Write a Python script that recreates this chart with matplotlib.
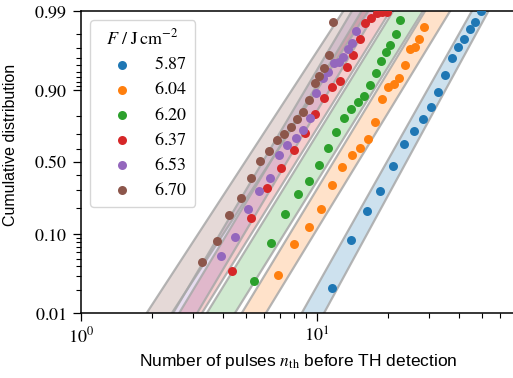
import numpy as np
import matplotlib
matplotlib.use("Agg")
import matplotlib.pyplot as plt
from matplotlib.ticker import FixedLocator, FuncFormatter, NullFormatter, LogLocator

# ---------------- data ----------------
fluences = [5.87, 6.04, 6.20, 6.37, 6.53, 6.70]

n_587 = [11.58, 13.94, 16.30, 18.61, 21.01, 23.47, 25.79, 28.17, 30.55, 32.81,
         35.13, 37.61, 39.89, 42.17, 44.72, 46.95, 49.63]
F_587 = [0.021, 0.085, 0.182, 0.291, 0.472, 0.634, 0.718, 0.786, 0.843, 0.894,
         0.933, 0.959, 0.971, 0.977, 0.983, 0.986, 0.990]

n_604 = [6.82, 8.04, 9.23, 10.43, 11.61, 12.84, 14.05, 15.27, 16.51, 17.71,
         18.87, 20.07, 21.22, 22.24, 23.69, 24.88, 26.05, 27.25, 28.53]
F_604 = [0.031, 0.076, 0.122, 0.195, 0.330, 0.464, 0.551, 0.607, 0.665, 0.770,
         0.873, 0.907, 0.915, 0.928, 0.951, 0.969, 0.971, 0.977, 0.984]

n_620 = [5.44, 6.38, 7.36, 8.31, 9.25, 10.23, 11.17, 12.11, 13.06, 14.02,
         15.02, 15.88, 16.88, 17.85, 18.74, 19.68, 20.53, 21.63, 22.56]
F_620 = [0.026, 0.078, 0.169, 0.272, 0.359, 0.475, 0.605, 0.714, 0.792, 0.835,
         0.860, 0.881, 0.912, 0.938, 0.956, 0.966, 0.972, 0.980, 0.987]

n_637 = [4.36, 5.26, 6.18, 7.06, 7.99, 8.89, 9.81, 10.69, 11.59, 12.50,
         13.41, 14.30, 15.27, 16.08, 16.92, 17.97, 18.87, 19.82]
F_637 = [0.035, 0.154, 0.310, 0.452, 0.588, 0.709, 0.812, 0.876, 0.907, 0.922,
         0.947, 0.963, 0.977, 0.9855, 0.9875, 0.9895, 0.9896, 0.9896]

n_653 = [3.91, 4.51, 5.11, 5.71, 6.31, 6.90, 7.50, 8.15, 8.77, 9.37,
         9.93, 10.60, 11.20, 11.79, 12.38, 12.89, 13.51, 14.12, 14.72]
F_653 = [0.054, 0.093, 0.192, 0.293, 0.383, 0.552, 0.627, 0.675, 0.726, 0.790,
         0.890, 0.927, 0.940, 0.953, 0.955, 0.961, 0.969, 0.974, 0.982]

n_670 = [3.26, 3.77, 4.26, 4.76, 5.26, 5.76, 6.28, 6.77, 7.27, 7.76,
         8.27, 8.77, 9.28, 9.79, 10.26, 10.77, 11.30, 11.76]
F_670 = [0.046, 0.084, 0.166, 0.249, 0.383, 0.511, 0.585, 0.661, 0.701, 0.745,
         0.786, 0.822, 0.870, 0.918, 0.931, 0.946, 0.963, 0.986]

# confidence bands: n of the left/right band edge at F = 0.01 and at F = 0.99
band_left_low   = [8.64, 4.81, 3.42, 2.61, 2.46, 1.90]
band_right_low  = [10.74, 6.09, 4.50, 3.26, 3.11, 2.43]
band_left_high  = [45.5, 28.8, 21.1, 15.5, 14.1, 12.97]
band_right_high = [53.5, 36.8, 28.2, 20.5, 17.9, 16.55]

series_n = [n_587, n_604, n_620, n_637, n_653, n_670]
series_F = [F_587, F_604, F_620, F_637, F_653, F_670]
colors = ["C0", "C1", "C2", "C3", "C4", "C5"]

# ---------------- figure ----------------
plt.rcParams["mathtext.fontset"] = "stix"
plt.rcParams["font.family"] = ["Liberation Sans", "DejaVu Sans"]

fig = plt.figure(figsize=(5.13, 3.78), dpi=100)
W, H = 513, 378
ax = fig.add_axes([81 / W, 65 / H, 435 / W, 302 / H])
ax.set_xscale("log")
ax.set_yscale("logit")


def logit(p):
    p = np.asarray(p, dtype=float)
    return np.log(p / (1 - p))


Fgrid_logit = np.linspace(logit(0.003), logit(0.997), 60)
Fgrid = 1 / (1 + np.exp(-Fgrid_logit))
u = (Fgrid_logit - logit(0.01)) / (logit(0.99) - logit(0.01))

for i, c in enumerate(colors):
    nl = 10 ** (np.log10(band_left_low[i]) + u * (np.log10(band_left_high[i]) - np.log10(band_left_low[i])))
    nr = 10 ** (np.log10(band_right_low[i]) + u * (np.log10(band_right_high[i]) - np.log10(band_right_low[i])))
    ax.fill_betweenx(Fgrid, nl, nr, facecolor=c, alpha=0.22, linewidth=0, zorder=1)
    ax.plot(nl, Fgrid, color="#a8a8a8", lw=1.6, alpha=0.85, zorder=1.5)
    ax.plot(nr, Fgrid, color="#a8a8a8", lw=1.6, alpha=0.85, zorder=1.5)

handles = []
for i, c in enumerate(colors):
    h = ax.scatter(series_n[i], series_F[i], s=42, color=c, linewidths=0, zorder=3,
                   label=rf"${fluences[i]:.2f}\enspace$")
    handles.append(h)

ax.set_xlim(1, 70)
ax.set_ylim(0.01, 0.99)

ax.yaxis.set_major_locator(FixedLocator([0.01, 0.10, 0.50, 0.90, 0.99]))
ax.yaxis.set_major_formatter(FuncFormatter(lambda v, p: f"${v:.2f}$"))
minor_y = [0.02, 0.03, 0.04, 0.05, 0.06, 0.07, 0.08, 0.09, 0.2, 0.3, 0.4, 0.6, 0.7, 0.8,
           0.91, 0.92, 0.93, 0.94, 0.95, 0.96, 0.97, 0.98]
ax.yaxis.set_minor_locator(FixedLocator(minor_y))
ax.yaxis.set_minor_formatter(NullFormatter())

ax.xaxis.set_major_locator(FixedLocator([1, 10]))
ax.xaxis.set_major_formatter(FuncFormatter(lambda v, p: f"$10^{{{int(round(np.log10(v)))}}}$"))
ax.xaxis.set_minor_locator(LogLocator(base=10, subs=np.arange(2, 10), numticks=20))
ax.xaxis.set_minor_formatter(NullFormatter())

ax.tick_params(axis="both", which="major", direction="out", length=6, width=0.9,
               labelsize=13, pad=4)
ax.tick_params(axis="both", which="minor", direction="out", length=3.5, width=0.8)

for s in ["left", "bottom", "top"]:
    ax.spines[s].set_linewidth(1.1)
ax.spines["right"].set_visible(False)

ax.set_xlabel(r"Number of pulses $n_{\mathrm{th}}$ before TH detection", fontsize=12.5)
ax.set_ylabel("Cumulative distribution", fontsize=11.5)
ax.yaxis.set_label_coords((18 - 81) / 435, (313 - 145) / 302)

leg = ax.legend(handles=handles, title=r"$F\ /\ \mathrm{J\,cm^{-2}}$",
                loc="upper left", bbox_to_anchor=((90 - 81) / 435, (313 - 20) / 302),
                borderaxespad=0, fontsize=13, title_fontsize=13,
                handlelength=2.6, handletextpad=0.5, labelspacing=0.45,
                borderpad=0.45, framealpha=0.8, edgecolor="0.8", scatterpoints=1)

fig.savefig("out.png", dpi=100)
